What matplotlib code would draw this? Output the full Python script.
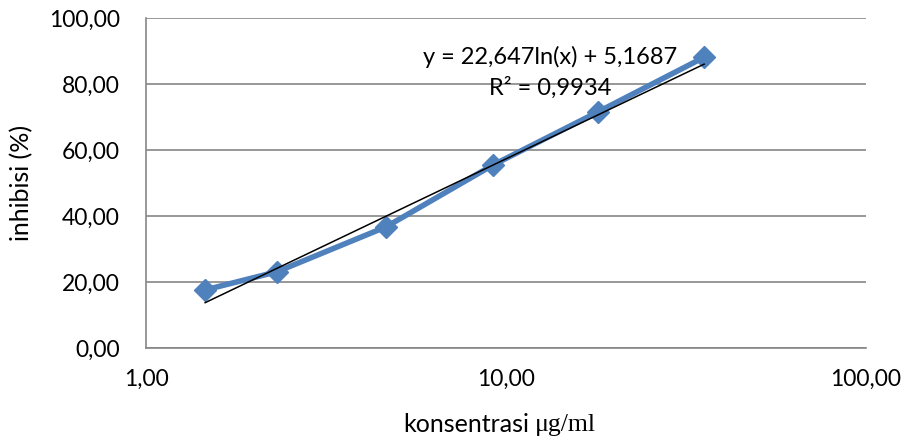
import numpy as np
import matplotlib
matplotlib.use("Agg")
import matplotlib.pyplot as plt
from matplotlib.ticker import FixedLocator, FuncFormatter, NullLocator

# data
konsentrasi = [1.46, 2.31, 4.64, 9.22, 18.05, 35.5]
inhibisi = [17.6, 23.1, 36.7, 55.5, 71.6, 88.1]

# trendline as printed on the chart
slope = 22.647
intercept = 5.1687
r2_text = "R² = 0,9934"
eq_text = "y = 22,647ln(x) + 5,1687"

x_ticks = [1, 10, 100]
y_ticks = [0, 20, 40, 60, 80, 100]

plt.rcParams['font.family'] = ['Lato', 'DejaVu Sans']

W, H = 906, 443
fig = plt.figure(figsize=(W / 100, H / 100), dpi=100)
ax = fig.add_axes([146 / W, 1 - 348 / H, 720 / W, 330 / H])

ax.plot(konsentrasi, inhibisi, color='#4F81BD', lw=4, marker='D', ms=11,
        solid_joinstyle='round', zorder=3)

trend_x = [konsentrasi[0], konsentrasi[-1]]
trend_y = [slope * np.log(v) + intercept for v in trend_x]
ax.plot(trend_x, trend_y, color='black', lw=1.1, zorder=4)

ax.set_xscale('log')
ax.set_xlim(1, 100)
ax.set_ylim(0, 100)
ax.xaxis.set_major_locator(FixedLocator(x_ticks))
ax.xaxis.set_minor_locator(NullLocator())
ax.yaxis.set_major_locator(FixedLocator(y_ticks))
fmt = FuncFormatter(lambda v, p: f"{v:.2f}".replace('.', ','))
ax.xaxis.set_major_formatter(fmt)
ax.yaxis.set_major_formatter(fmt)

ax.grid(axis='y', color='#868686', lw=1.2)
ax.set_axisbelow(True)
for s in ['top', 'right']:
    ax.spines[s].set_visible(False)
for s in ['left', 'bottom']:
    ax.spines[s].set_color('#868686')
    ax.spines[s].set_linewidth(1.2)
ax.tick_params(length=0, labelsize=16.5, colors='black')
ax.tick_params(axis='x', pad=15)
ax.tick_params(axis='y', pad=19)

# axis titles
fig.text(22 / W, 1 - 183 / H, 'inhibisi (%)', rotation=90, ha='center',
         va='center', fontsize=18)
fig.text(529 / W, 1 - 425 / H, 'konsentrasi', ha='right', va='center',
         fontsize=18)
fig.text(535 / W, 1 - 425 / H, 'μg/ml', ha='left', va='center',
         fontsize=18.5, family=['Liberation Serif', 'DejaVu Serif'])

# trendline label
fig.text(550 / W, 1 - 57 / H, eq_text, ha='center', va='center', fontsize=17)
fig.text(550 / W, 1 - 88 / H, r2_text, ha='center', va='center', fontsize=17)

fig.savefig('out.png', dpi=100)
